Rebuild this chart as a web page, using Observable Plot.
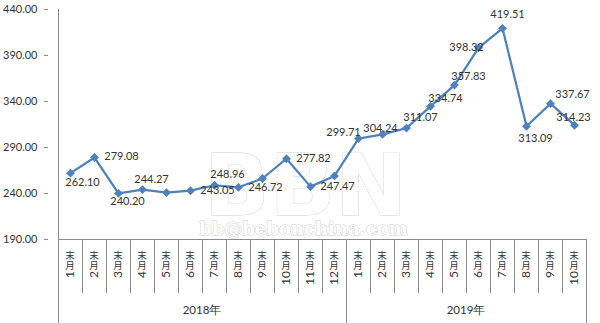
<!DOCTYPE html>
<html><head><meta charset="utf-8">
<script src="https://cdn.jsdelivr.net/npm/d3@7"></script>
<script src="https://cdn.jsdelivr.net/npm/@observablehq/plot@0.6"></script>
<style>body{margin:0;background:#fff}</style>
</head><body><div id="chart"></div>
<script>
// ---- data ----
const years = ["2018年", "2019年"];
const months2018 = ["1月末","2月末","3月末","4月末","5月末","6月末","7月末","8月末","9月末","10月末","11月末","12月末"];
const months2019 = ["1月末","2月末","3月末","4月末","5月末","6月末","7月末","8月末","9月末","10月末"];
const values2018 = [262.10, 279.08, 240.20, 244.27, 241.0, 243.05, 248.96, 246.72, 256.3, 277.82, 247.47, 259.1];
const values2019 = [299.71, 304.24, 311.07, 334.74, 357.83, 398.32, 419.51, 313.09, 337.67, 314.23];
const labeled2018 = [true, true, true, true, false, true, true, true, false, true, true, false];
const labeled2019 = [true, true, true, true, true, true, true, true, true, true];
const yTicks = [190, 240, 290, 340, 390, 440];

// ---- layout (label nudges in px: [dx, dy]) ----
const nudge2018 = [[12,9],[27,-1],[9,8],[9,-10],null,[27,0],[13,-11],[27,0],null,[27,0],[27,0],null];
const nudge2019 = [[-15,-6],[-2,-6],[14,-11],[15,-8],[14,-9],[-12,0],[5,-14],[9,12],[22,-9],[-1,-8]];

const W = 600, H = 323, ML = 48, MR = 5, MT = 9, MB = 84;
const blue = "#4F81BD", grey = "#8c8c8c", ink = "#333";

const rows = [];
const groups = [[months2018, values2018, labeled2018, nudge2018], [months2019, values2019, labeled2019, nudge2019]];
groups.forEach(([ms, vs, lb, ng], gi) => {
  ms.forEach((m, i) => rows.push({key: years[gi] + m, year: years[gi], month: m, value: vs[i], labeled: lb[i], nudge: ng[i], first: i === 0}));
});
const keys = rows.map(d => d.key);

const labelMarks = rows.filter(d => d.labeled && d.nudge).map(d =>
  Plot.text([d], {x: "key", y: "value", text: d => d.value.toFixed(2), dx: d.nudge[0], dy: d.nudge[1],
    fontSize: 11, fill: ink, fontFamily: "Lato"}));

const chart = Plot.plot({
  width: W, height: H, marginLeft: ML, marginRight: MR, marginTop: MT, marginBottom: MB,
  style: {fontFamily: "Lato", fontSize: "11px", color: ink, background: "white"},
  x: {type: "band", domain: keys, padding: 0, axis: null},
  y: {domain: [190, 440], ticks: yTicks, tickFormat: d3.format(".2f"), tickSize: 4, tickPadding: 7, label: null},
  marks: [
    // watermark
    Plot.text(["BBN"], {frameAnchor: "top-left", textAnchor: "middle", lineAnchor: "middle", dx: 305 - ML, dy: 187 - MT,
      fontSize: 86, fontWeight: "bold", fontFamily: "DejaVu Sans", fill: "white", stroke: "#dedede", strokeWidth: 1.3}),
    Plot.text(["bb@bebonchina.com"], {frameAnchor: "top-left", textAnchor: "middle", lineAnchor: "middle", dx: 303 - ML, dy: 229 - MT,
      fontSize: 18, fontWeight: "bold", fontFamily: "DejaVu Serif", fill: "white", stroke: "#cfcfcf", strokeWidth: 1}),
    Plot.line(rows, {x: "key", y: "value", stroke: blue, strokeWidth: 2.25}),
    Plot.dot(rows, {x: "key", y: "value", symbol: "diamond2", r: 4, fill: blue, stroke: null}),
    ...labelMarks
  ]
});
document.getElementById("chart").appendChild(chart);

// category axis drawn from the plot's own x scale
const xs = chart.scale("x"), ys = chart.scale("y");
const bw = xs.bandwidth;
const svg = d3.select(chart);
const g = svg.append("g").attr("stroke", grey).attr("shape-rendering", "crispEdges").attr("fill", "none");
const y0 = ys.apply(190), yTop = ys.apply(440);
const xStart = xs.apply(keys[0]), xEnd = xs.apply(keys[keys.length - 1]) + bw;
g.append("line").attr("x1", xStart).attr("x2", xStart).attr("y1", yTop).attr("y2", H);
g.append("line").attr("x1", xStart).attr("x2", xEnd).attr("y1", y0).attr("y2", y0);
g.append("line").attr("x1", xEnd).attr("x2", xEnd).attr("y1", y0).attr("y2", H);
rows.forEach((d, i) => {
  if (i === 0) return;
  const xv = xs.apply(d.key);
  g.append("line").attr("x1", xv).attr("x2", xv).attr("y1", y0).attr("y2", d.first ? H : y0 + 54);
});

const t = svg.append("g").attr("fill", ink);
rows.forEach(d => {
  const cx = xs.apply(d.key) + bw / 2;
  const digits = d.month.match(/\d+/)[0];
  const cjk = d.month.replace(/\d+/, "");
  t.append("text").attr("transform", `translate(${cx},${y0 + 32}) rotate(-90)`)
    .attr("text-anchor", "end").attr("dy", "0.35em").attr("font-family", "Lato").attr("font-size", 12).text(digits);
  t.append("text").attr("x", cx).attr("y", y0 + 26.5).attr("dy", "0.35em").attr("text-anchor", "middle")
    .attr("font-family", "Noto Sans CJK SC").attr("font-size", 9.5).text(cjk[0]);
  t.append("text").attr("x", cx).attr("y", y0 + 16.5).attr("dy", "0.35em").attr("text-anchor", "middle")
    .attr("font-family", "Noto Sans CJK SC").attr("font-size", 9.5).text(cjk[1]);
});
years.forEach(yr => {
  const ks = rows.filter(d => d.year === yr);
  const cx = (xs.apply(ks[0].key) + xs.apply(ks[ks.length - 1].key) + bw) / 2;
  t.append("text").attr("x", cx).attr("y", y0 + 71).attr("dy", "0.35em").attr("text-anchor", "middle")
    .attr("font-family", "Lato").attr("font-size", 11.5).text(yr);
});
svg.selectAll("[aria-label='y-axis tick'] path").attr("stroke", grey);
</script>
</body></html>
